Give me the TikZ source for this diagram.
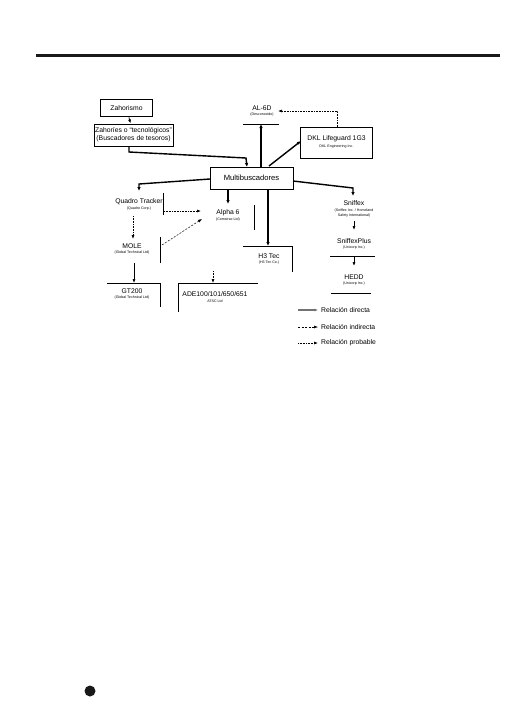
\documentclass[tikz,border=0pt]{standalone}
\usepackage{fontspec}
\setmainfont{Liberation Sans}
\usetikzlibrary{arrows.meta}
\begin{document}
\begin{tikzpicture}[x=1pt,y=-1pt,
  lbl/.style={font=\fontsize{6.8}{8}\selectfont, inner sep=0pt, align=center},
  sub/.style={font=\fontsize{3.6}{4.6}\selectfont, inner sep=0pt, align=center},
  direct/.style={line width=1.4pt, -{Latex[length=4pt,width=3.5pt]}},
  thinarr/.style={line width=0.7pt, -{Latex[length=4pt,width=3pt]}},
  indirect/.style={line width=0.5pt, dash pattern=on 2pt off 1.5pt, -{Latex[length=4pt,width=3pt]}},
  probable/.style={line width=0.6pt, dash pattern=on 0.7pt off 0.9pt, -{Latex[length=4pt,width=3pt]}},
  rulel/.style={line width=0.9pt},
  ]
\useasboundingbox (0,0) rectangle (504,713);
\fill[black!90] (36,54) rectangle (500,57);
\fill[black!90] (90,691) circle (5.5);

% top boxes
\node[draw, line width=1.6pt, minimum width=52pt, minimum height=17pt, lbl] (zah) at (126.5,108) {Zahorismo};
\node[draw, line width=1pt, minimum width=79pt, minimum height=22pt, lbl] (zt) at (133.5,135) {Zahoríes o “tecnológicos”\\(Buscadores de tesoros)};
\draw[thinarr] (zah) -- (zt);

\node[draw, line width=0.9pt, minimum width=83pt, minimum height=22pt, font=\fontsize{7.6}{9}\selectfont, inner sep=0pt] (mb) at (251.5,178) {Multibuscadores};
\coordinate (zt1) at (129,146);
\coordinate (mbt) at (247,167);
\draw[direct] (zt1) -- (129,152) -- (246,158) -- (mbt);

% AL-6D
\node[lbl] (al) at (262,108) {AL-6D};
\node[sub] (als) at (262,114.5) {(Desconocido)};
\coordinate (alL) at (243,124);
\coordinate (alR) at (279,124);
\draw[rulel] (alL) -- (alR);
\coordinate (mbal) at (261,167);
\coordinate (alb) at (261,124);
\draw[direct] (mbal) -- (alb);

% DKL
\node[draw, line width=0.9pt, minimum width=72pt, minimum height=31pt] (dkl) at (336.5,142.5) {};
\node[lbl] (dklt) at (336.5,138.5) {DKL Lifeguard 1G3};
\node[sub] (dkls) at (336.5,146.5) {DKL Engineering Inc.};
\coordinate (mbdk) at (269,166);
\coordinate (dkw) at (301,141);
\draw[direct] (mbdk) -- (dkw);
\coordinate (dkn) at (337,127);
\coordinate (alarr) at (278,111);
\draw[probable] (dkn) |- (alarr);

% Quadro Tracker
\node[lbl] (qt) at (139,202) {Quadro Tracker};
\node[sub] (qts) at (139,208.5) {(Quadro Corp.)};
\coordinate (qtt) at (163,193);
\coordinate (qtb) at (163,215);
\draw[rulel] (qtt) -- (qtb);
\coordinate (mbw) at (210,179);
\coordinate (qtn) at (139,191);
\draw[direct] (mbw) -- (139,184) -- (qtn);

% Alpha 6
\node[lbl] (a6) at (228,213) {Alpha 6};
\node[sub] (a6s) at (228,220) {(Comstrac Ltd)};
\coordinate (a6t) at (254,205);
\coordinate (a6b) at (254,230);
\draw[rulel] (a6t) -- (a6b);
\coordinate (mba6) at (228,189);
\coordinate (a6n) at (228,204);
\draw[direct] (mba6) -- (a6n);
\coordinate (qte) at (164,211);
\coordinate (a6w) at (201,211);
\draw[probable] (qte) -- (a6w);

% H3 Tec
\node[lbl] (h3) at (269,256) {H3 Tec};
\node[sub] (h3s) at (269,262.5) {(H3 Tec Co.)};
\coordinate (h3L) at (243,246);
\coordinate (h3R) at (292,246);
\coordinate (h3B) at (292,272);
\draw[rulel] (h3L) -- (h3R) -- (h3B);
\coordinate (mbh3) at (268,189);
\coordinate (h3n) at (268,246);
\draw[direct] (mbh3) -- (h3n);

% Sniffex chain
\node[lbl] (sn) at (354,203) {Sniffex};
\node[sub] (sns) at (354,213) {(Sniffex Inc. / Homeland\\Safety International)};
\coordinate (mbe) at (293,181);
\coordinate (snn) at (353,196);
\draw[direct] (mbe) -- (353,188) -- (snn);
\coordinate (sn1) at (354,221);
\coordinate (sp1) at (354,230);
\draw[thinarr] (sn1) -- (sp1);
\node[lbl] (sp) at (354,241) {SniffexPlus};
\node[sub] (sps) at (354,247.5) {(Unicorp Inc.)};
\coordinate (spL) at (330,256);
\coordinate (spR) at (375,256);
\draw[rulel] (spL) -- (spR);
\coordinate (sp2) at (354,256);
\coordinate (hd1) at (354,266);
\draw[thinarr] (sp2) -- (hd1);
\node[lbl] (hd) at (354,277) {HEDD};
\node[sub] (hds) at (354,283.5) {(Unicorp Inc.)};
\coordinate (hdL) at (331,293);
\coordinate (hdR) at (371,293);
\draw[rulel] (hdL) -- (hdR);

% MOLE
\node[lbl] (mo) at (132,246) {MOLE};
\node[sub] (mos) at (132,253) {(Global Technical Ltd)};
\coordinate (qts1) at (133,216);
\coordinate (mon) at (133,239);
\draw[probable] (qts1) -- (mon);
\coordinate (moT) at (160,237);
\coordinate (moB) at (160,263);
\draw[rulel] (moT) -- (moB);
\coordinate (moe) at (162,245);
\coordinate (a6sw) at (202,219);
\draw[indirect] (moe) -- (a6sw);

% GT200
\node[lbl] (gt) at (132,291) {GT200};
\node[sub] (gts) at (132,298) {(Global Technical Ltd)};
\coordinate (gtL) at (107,283);
\coordinate (gtR) at (160,283);
\coordinate (gtB) at (160,307);
\draw[rulel] (gtL) -- (gtR) -- (gtB);
\coordinate (mos1) at (134,263);
\coordinate (gtn) at (134,283);
\draw[thinarr] (mos1) -- (gtn);

% ADE
\node[lbl] (ade) at (215,294) {ADE100/101/650/651};
\node[sub] (ades) at (215,301) {ATSC Ltd};
\coordinate (adL) at (178,312);
\coordinate (adT) at (178,283);
\coordinate (adR) at (258,283);
\draw[rulel] (adL) -- (adT) -- (adR);
\coordinate (ad1) at (213,271);
\coordinate (adn) at (213,283);
\draw[probable] (ad1) -- (adn);

% legend
\coordinate (l1a) at (298,310);
\coordinate (l1b) at (318,310);
\coordinate (l2a) at (298,327);
\coordinate (l2b) at (318,327);
\coordinate (l3a) at (298,343);
\coordinate (l3b) at (318,343);
\draw[direct, draw=black!55, fill=black!55, -{Latex[length=3.5pt,width=3pt]}] (l1a) -- (l1b);
\draw[indirect] (l2a) -- (l2b);
\draw[probable] (l3a) -- (l3b);
\node[lbl, anchor=west] (t1) at (321,310) {Relación directa};
\node[lbl, anchor=west] (t2) at (321,327) {Relación indirecta};
\node[lbl, anchor=west] (t3) at (321,343) {Relación probable};
\end{tikzpicture}
\end{document}
